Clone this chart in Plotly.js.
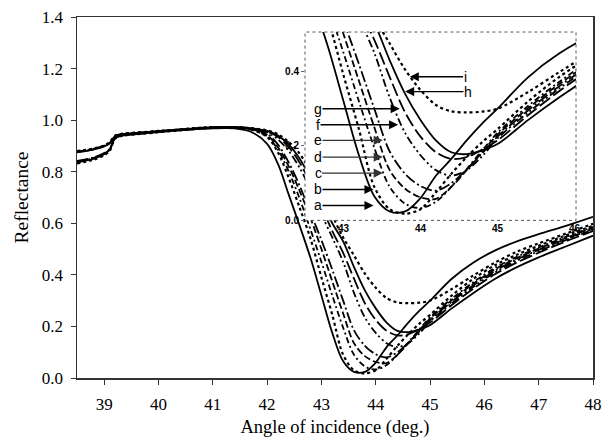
<!DOCTYPE html>
<html>
<head>
<meta charset="utf-8">
<script src="https://cdn.plot.ly/plotly-3.0.1.min.js"></script>
<style>html,body{margin:0;padding:0;background:#fff;}#chart{width:603px;height:444px;}</style>
</head>
<body>
<div id="chart"></div>
<script>
// Angle of incidence (deg.)
const angle = [38.5, 38.8, 39.0, 39.1, 39.2, 39.3, 39.6, 40.0, 40.5, 41.0, 41.4, 41.7, 42.0, 42.2, 42.4, 42.6, 42.8, 43.0, 43.2, 43.4, 43.6, 43.8, 44.0, 44.2, 44.4, 44.6, 44.8, 45.0, 45.4, 45.8, 46.2, 46.6, 47.0, 47.5, 48.0];

// Reflectance of curves a..i
const curveA = [0.836, 0.850, 0.868, 0.884, 0.930, 0.939, 0.946, 0.954, 0.962, 0.968, 0.968, 0.955, 0.908, 0.830, 0.710, 0.590, 0.465, 0.320, 0.175, 0.065, 0.024, 0.024, 0.060, 0.120, 0.165, 0.215, 0.260, 0.300, 0.385, 0.448, 0.495, 0.530, 0.558, 0.590, 0.625];
const curveB = [0.880, 0.890, 0.902, 0.914, 0.940, 0.946, 0.952, 0.958, 0.966, 0.973, 0.972, 0.965, 0.935, 0.875, 0.775, 0.660, 0.540, 0.390, 0.245, 0.090, 0.030, 0.018, 0.030, 0.075, 0.125, 0.170, 0.210, 0.245, 0.320, 0.385, 0.438, 0.478, 0.513, 0.553, 0.590];
const curveC = [0.840, 0.853, 0.870, 0.886, 0.932, 0.940, 0.947, 0.955, 0.963, 0.970, 0.970, 0.963, 0.937, 0.885, 0.800, 0.695, 0.575, 0.450, 0.320, 0.195, 0.090, 0.045, 0.033, 0.050, 0.090, 0.138, 0.188, 0.235, 0.308, 0.372, 0.428, 0.470, 0.506, 0.547, 0.586];
const curveD = [0.876, 0.887, 0.899, 0.911, 0.938, 0.944, 0.950, 0.957, 0.965, 0.972, 0.972, 0.966, 0.942, 0.895, 0.820, 0.725, 0.620, 0.500, 0.375, 0.250, 0.135, 0.085, 0.062, 0.058, 0.090, 0.135, 0.183, 0.230, 0.302, 0.366, 0.422, 0.465, 0.502, 0.543, 0.583];
const curveE = [0.842, 0.855, 0.872, 0.888, 0.933, 0.941, 0.948, 0.956, 0.964, 0.971, 0.971, 0.966, 0.947, 0.905, 0.835, 0.745, 0.640, 0.535, 0.420, 0.300, 0.185, 0.125, 0.092, 0.080, 0.100, 0.137, 0.180, 0.225, 0.296, 0.360, 0.416, 0.460, 0.497, 0.539, 0.579];
const curveF = [0.878, 0.889, 0.901, 0.913, 0.939, 0.945, 0.951, 0.958, 0.966, 0.973, 0.973, 0.968, 0.953, 0.925, 0.880, 0.815, 0.730, 0.635, 0.545, 0.450, 0.330, 0.235, 0.175, 0.135, 0.120, 0.135, 0.172, 0.220, 0.290, 0.354, 0.410, 0.455, 0.492, 0.535, 0.575];
const curveG = [0.838, 0.852, 0.869, 0.885, 0.931, 0.940, 0.947, 0.955, 0.963, 0.971, 0.972, 0.968, 0.955, 0.935, 0.895, 0.835, 0.755, 0.665, 0.570, 0.485, 0.385, 0.290, 0.225, 0.183, 0.165, 0.170, 0.190, 0.215, 0.283, 0.347, 0.403, 0.448, 0.486, 0.530, 0.570];
const curveH = [0.875, 0.886, 0.898, 0.910, 0.937, 0.944, 0.950, 0.957, 0.965, 0.972, 0.973, 0.969, 0.958, 0.940, 0.905, 0.850, 0.775, 0.690, 0.600, 0.530, 0.430, 0.340, 0.270, 0.215, 0.183, 0.178, 0.188, 0.205, 0.270, 0.330, 0.385, 0.430, 0.468, 0.510, 0.552];
const curveI = [0.832, 0.846, 0.864, 0.880, 0.928, 0.938, 0.945, 0.953, 0.962, 0.970, 0.972, 0.969, 0.960, 0.945, 0.915, 0.870, 0.800, 0.720, 0.630, 0.545, 0.475, 0.405, 0.350, 0.310, 0.293, 0.290, 0.292, 0.300, 0.345, 0.398, 0.448, 0.490, 0.522, 0.560, 0.598];

const curveNames = ['a', 'b', 'c', 'd', 'e', 'f', 'g', 'h', 'i'];
const curveValues = [curveA, curveB, curveC, curveD, curveE, curveF, curveG, curveH, curveI];
const curveDash = ['solid', 'dot', '6px,3px,2px,3px', '7px,3px', '11px,3px,2px,3px', '8px,3px,2px,3px,2px,3px', '13px,4px', 'solid', 'dot'];

// Inset arrow tips (inset coordinates)
const labelTipX = [43.39, 43.39, 43.51, 43.51, 43.51, 43.71, 43.73, 43.80, 43.86];
const labelTipY = [0.040, 0.083, 0.127, 0.170, 0.215, 0.257, 0.300, 0.346, 0.386];

const traces = [];
['', '2'].forEach(function (s) {
  curveValues.forEach(function (vals, k) {
    traces.push({
      x: angle, y: vals, type: 'scatter', mode: 'lines',
      name: curveNames[k],
      xaxis: 'x' + s, yaxis: 'y' + s,
      line: {color: '#000', width: curveDash[k] === 'dot' ? 2.2 : 1.8, dash: curveDash[k], shape: 'spline', smoothing: 0.9},
      hoverinfo: 'skip', showlegend: false
    });
  });
});

const sans = 'Liberation Sans';
const serif = 'Liberation Serif';
const annotations = curveNames.map(function (n, k) {
  const fromRight = k >= 7;
  const tipPx = 305 + (labelTipX[k] - 42.5) * 77;
  const labelPx = fromRight ? (k === 8 ? 465 : 468) : 318;
  return {
    x: labelTipX[k], y: labelTipY[k], xref: 'x2', yref: 'y2',
    text: n, showarrow: true, arrowhead: 2, arrowsize: 1.3, arrowwidth: 1.4,
    arrowcolor: (k >= 2 && k <= 4) ? '#333' : '#000',
    ax: labelPx - tipPx, ay: 0, standoff: 0, borderpad: 0,
    font: {family: sans, size: 14, color: '#000'}
  };
});

const layout = {
  width: 603, height: 444,
  margin: {l: 77, r: 10, t: 17, b: 66},
  paper_bgcolor: '#fff', plot_bgcolor: '#fff',
  font: {family: serif},
  showlegend: false, hovermode: false,
  xaxis: {
    range: [38.5, 48], dtick: 1, tick0: 39, ticks: 'outside', ticklen: 5, tickwidth: 1, tickcolor: '#333',
    showline: true, linecolor: '#333', linewidth: 1.5, mirror: true, showgrid: false, zeroline: false,
    ticklabelstandoff: 5,
    tickfont: {family: serif, size: 17, color: '#000'},
    title: {text: 'Angle of incidence (deg.)', font: {family: serif, size: 18.5, color: '#000'}, standoff: 7}
  },
  yaxis: {
    range: [0, 1.4], dtick: 0.2, tickformat: '.1f', ticks: 'outside', ticklen: 5, tickwidth: 1, tickcolor: '#333',
    showline: true, linecolor: '#333', linewidth: 1.5, mirror: true, showgrid: false, zeroline: false,
    ticklabelstandoff: 4,
    tickfont: {family: serif, size: 17, color: '#000'},
    title: {text: 'Reflectance', font: {family: serif, size: 19.5, color: '#000'}, standoff: 8}
  },
  xaxis2: {
    domain: [0.4419, 0.9671], anchor: 'y2', range: [42.5, 46.02], dtick: 1, tick0: 43,
    ticks: '', showline: false, showgrid: false, zeroline: false, ticklabelstandoff: 1,
    tickfont: {family: sans, size: 10, color: '#000', weight: 'bold'}
  },
  yaxis2: {
    domain: [0.4366, 0.9584], anchor: 'x2', range: [0, 0.506], tickvals: [0, 0.2, 0.4], tickformat: '.1f',
    ticks: 'outside', ticklen: 3, tickcolor: '#666', showline: false, showgrid: false, zeroline: false,
    tickfont: {family: sans, size: 10, color: '#000', weight: 'bold'}
  },
  shapes: [{
    type: 'rect', xref: 'x2 domain', yref: 'y2 domain', x0: 0, x1: 1, y0: 0, y1: 1,
    line: {color: '#555', width: 1, dash: 'dot'}, layer: 'above'
  }],
  annotations: annotations
};

Plotly.newPlot('chart', traces, layout, {displayModeBar: false, staticPlot: true});
</script>
</body>
</html>
